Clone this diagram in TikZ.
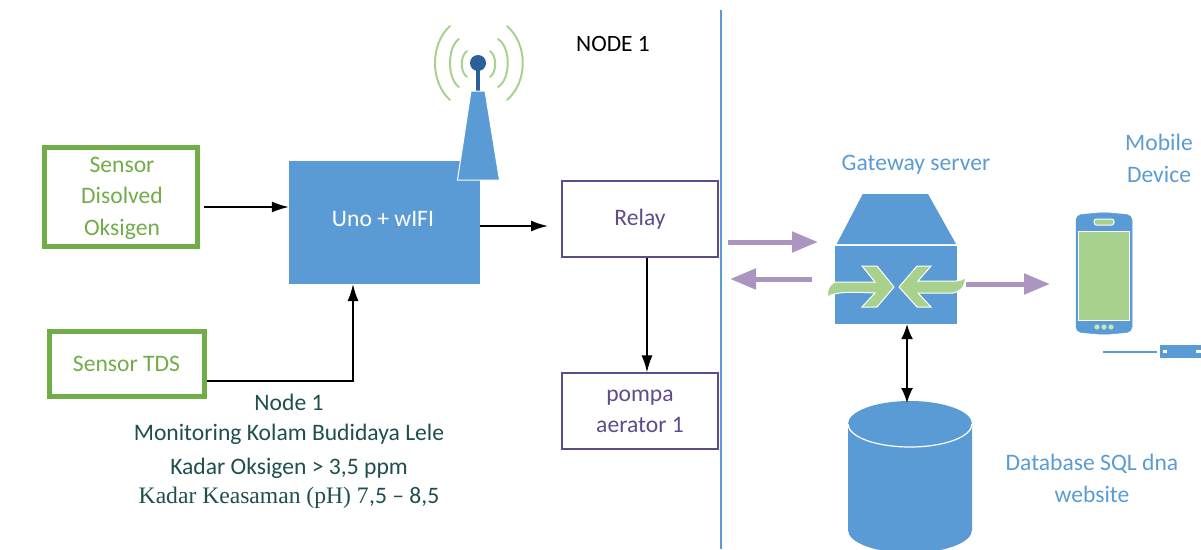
\documentclass[tikz,border=0pt]{standalone}
\usepackage{fontspec}
\setmainfont{Carlito}
\newfontfamily\serifpart{Liberation Serif}
\usetikzlibrary{arrows.meta}
\definecolor{blu}{HTML}{5B9BD5}
\definecolor{dblu}{HTML}{2A6099}
\definecolor{grn}{HTML}{70AD47}
\definecolor{lgrn}{HTML}{A9D18E}
\definecolor{pur}{HTML}{A995C0}
\definecolor{dpur}{HTML}{5F4B8B}
\definecolor{dteal}{HTML}{1F4E4E}
\tikzset{
  greenbox/.style={draw=grn,line width=5pt,inner sep=0pt,text=grn,align=center,font=\fontsize{23.6}{31.5}\selectfont},
  greenlabel/.style={inner sep=0pt,text=grn,align=center,font=\fontsize{23.6}{31.5}\selectfont},
  relaybox/.style={draw=dpur,line width=1.2pt,inner sep=0pt,text=dpur,align=center,minimum width=156pt,minimum height=76pt,font=\fontsize{23.6}{31}\selectfont},
  blacktext/.style={text=black,font=\fontsize{23.4}{26}\selectfont,inner sep=0pt},
  bluetext/.style={text=blu,align=center,inner sep=0pt,font=\fontsize{23.6}{32}\selectfont},
  notetext/.style={text=dteal,inner sep=0pt,font=\fontsize{23.6}{26}\selectfont},
  flow/.style={-{Latex[length=17pt,width=11pt]},line width=1.6pt,black},
  flowboth/.style={{Latex[length=15pt,width=12pt]}-{Latex[length=15pt,width=12pt]},line width=1.6pt,black},
  purflow/.style={-{Triangle[length=26pt,width=20pt]},line width=5pt,pur},
  chev/.style={fill=lgrn,draw=white,line width=1pt},
}
\begin{document}
\begin{tikzpicture}[x=1pt,y=-1pt]
\useasboundingbox (0,0) rectangle (1201,549);
% divider
\coordinate (divtop) at (721,10);
\coordinate (divbot) at (721,549);
\draw[blu,line width=1.5pt] (divtop) -- (divbot);
% left side boxes
\node[greenbox,minimum width=153pt,minimum height=99pt] (dosensor) at (120.5,196.5) {};
\node[greenlabel] (dolabel) at (122,198) {Sensor\\Disolved\\Oksigen};
\node[greenbox,minimum width=155pt,minimum height=65pt] (tds) at (126.5,363.5) {Sensor TDS};
\node[fill=blu,minimum width=191pt,minimum height=123pt,inner sep=0pt] (uno) at (384.5,222.5) {};
\node[text=white,inner sep=0pt,font=\fontsize{23.6}{26}\selectfont] (unolabel) at (383,219) {Uno + wIFI};
\node[relaybox] (relay) at (640,219) {Relay};
\node[relaybox] (pompa) at (640,411) {pompa\\aerator 1};
% tower
\draw[lgrn,line width=2pt,line cap=round]
  (450,26) .. controls (430,44) and (430,82) .. (450,100)
  (459,39) .. controls (447,47) and (447,79) .. (459,87)
  (467,51) .. controls (460,56) and (460,72) .. (467,77)
  (507,26) .. controls (528,44) and (528,82) .. (507,100)
  (498,39) .. controls (511,47) and (511,79) .. (498,87)
  (490,51) .. controls (497,56) and (497,72) .. (490,77);
\fill[dblu] (476,63) rectangle (480,91);
\fill[dblu] (478,63) circle (8);
\draw[fill=blu,draw=white,line width=1pt] (471,91) -- (485,91) -- (499.5,180) -- (457.5,180) -- cycle;
\node[blacktext] (nodetitle) at (613,44) {NODE 1};
% gateway
\node[bluetext] (gwlabel) at (916,165) {Gateway server};
\fill[blu] (862.7,194) -- (928,194) -- (956,244) -- (836.7,244) -- cycle;
\node[fill=blu,minimum width=122pt,minimum height=78pt,inner sep=0pt] (gw) at (896,285) {};
\draw[chev] (835,282) -- (875,282) -- (862,266) -- (877,266) -- (894,287) -- (877,307) -- (862,307) -- (875,293)
  .. controls (855,292) and (835,291) .. (828,297) .. controls (826,290) and (830,284) .. (835,282) -- cycle;
\draw[chev] (953,293) -- (918,293) -- (931,307) -- (917,307) -- (899,287) -- (917,266) -- (931,266) -- (918,281)
  -- (945,281) .. controls (955,281) and (962,282) .. (965,277) .. controls (966,285) and (962,291) .. (953,293) -- cycle;
% database
\fill[blu] (848,424) arc[start angle=180,end angle=360,x radius=62,y radius=23] -- (972,530) arc[start angle=0,end angle=180,x radius=62,y radius=23] -- cycle;
\draw[white,line width=1.2pt] (848,424) arc[start angle=180,end angle=0,x radius=62,y radius=23];
\coordinate (dbtop) at (907,403);
\node[bluetext] (dblabel) at (1092,478) {Database SQL dna\\website};
% phone
\node[bluetext] (moblabel) at (1159,158) {Mobile\\Device};
\draw[fill=blu,draw=blu,line width=0.5pt,rounded corners=5pt] (1076,215) -- (1104,212.5) -- (1132,215) -- (1132,332) -- (1104,334.5) -- (1076,332) -- cycle;
\node[fill=lgrn,draw=white,line width=1.2pt,minimum width=51pt,minimum height=89pt,inner sep=0pt] (screen) at (1104,276) {};
\node[fill=lgrn,draw=white,line width=1pt,rounded corners=2.5pt,minimum width=20pt,minimum height=6pt,inner sep=0pt] (speaker) at (1104,222) {};
\foreach \bx in {1097,1104,1111} \fill[lgrn!60!white] (\bx,327) circle (2.6);
% network stub
\coordinate (stub) at (1103,352);
\node[fill=blu,minimum width=41pt,minimum height=13pt,inner sep=0pt,anchor=west] (switch) at (1160,351.5) {};
\draw[blu,line width=1.3pt] (stub) -- (1157,352);
\fill[white] (1163,349.5) rectangle (1167,353);
\fill[white] (1196,349.5) rectangle (1201,353);
% connectors
\draw[flow] (204,207) -- (uno.west |- 0,207);
\draw[flow] (tds.east |- 0,381) -| (353,284);
\draw[flow] (uno.east |- 0,226) -- (548,226);
\draw[flow] (relay.south -| 647,0) -- (pompa.north -| 647,0);
\draw[flowboth] (gw.south -| 907,0) -- (dbtop);
\coordinate (pa) at (728,242); \coordinate (pb) at (818,242);
\coordinate (pc) at (812,279); \coordinate (pd) at (730,279);
\coordinate (pe) at (966,284); \coordinate (pf) at (1050,284);
\draw[purflow] (pa) -- (pb);
\draw[purflow] (pc) -- (pd);
\draw[purflow] (pe) -- (pf);
% note
\node[notetext] (n1) at (289,402) {Node 1};
\node[notetext] (n2) at (289,434) {Monitoring Kolam Budidaya Lele};
\node[notetext] (n3) at (289,468) {Kadar Oksigen > 3,5 ppm};
\node[notetext] (n4) at (289,498) {{\serifpart Kadar Keasaman (pH) 7}\kern0.5pt,5 – 8,5};
\end{tikzpicture}
\end{document}
